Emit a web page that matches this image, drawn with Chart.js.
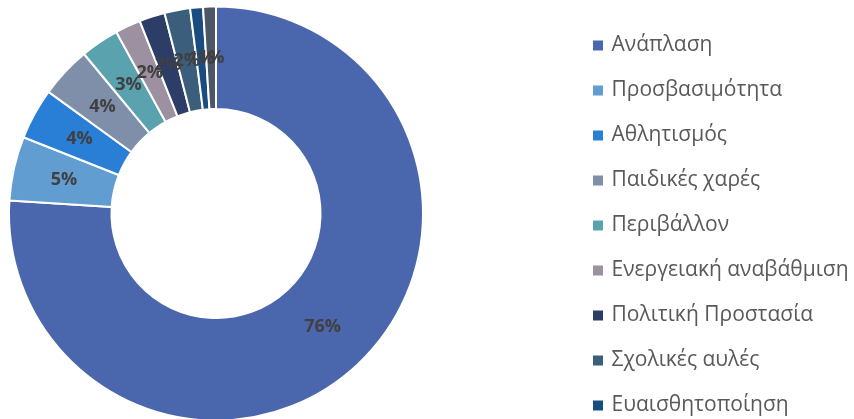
<!DOCTYPE html>
<html lang="el">
<head>
    <meta charset="UTF-8">
    <title>Κατανομή έργων</title>
    <script src="https://cdn.jsdelivr.net/npm/chart.js"></script>
    <style>
        body { margin: 0; background: #fff; }
        /* the picture is a crop of a larger chart: the ring and the 10th legend row run past the edges */
        .frame { position: relative; width: 854px; height: 419px; overflow: hidden; }
        .frame canvas { position: absolute; left: -139px; top: -58px; }
    </style>
</head>
<body>
    <div class="frame"><canvas id="shareChart" width="993" height="543"></canvas></div>

    <script>
        // Categories and their shares (%)
        const categories = [
            'Ανάπλαση', 'Προσβασιμότητα', 'Αθλητισμός', 'Παιδικές χαρές', 'Περιβάλλον',
            'Ενεργειακή αναβάθμιση', 'Πολιτική Προστασία', 'Σχολικές αυλές', 'Ευαισθητοποίηση', 'Λοιπά'
        ];
        const shares = [76, 5, 4, 4, 3, 2, 2, 2, 1, 1];
        const sliceColors = [
            '#4A66AC', '#629DD1', '#297FD5', '#7F8FA9', '#5AA2AE',
            '#9D90A0', '#2C3D67', '#3B5E7D', '#194C80', '#4C5665'
        ];

        // Percent labels drawn at the middle of each ring segment
        const sliceLabels = {
            id: 'sliceLabels',
            afterDatasetsDraw(chart) {
                const ctx = chart.ctx;
                const total = shares.reduce((a, b) => a + b, 0);
                ctx.save();
                ctx.font = 'bold 18px "Open Sans"';
                ctx.fillStyle = '#404040';
                ctx.textAlign = 'center';
                ctx.textBaseline = 'middle';
                chart.getDatasetMeta(0).data.forEach((arc, i) => {
                    const pos = arc.tooltipPosition();
                    ctx.fillText(Math.round(shares[i] / total * 100) + '%', pos.x, pos.y);
                });
                ctx.restore();
            }
        };

        const ctx = document.getElementById('shareChart').getContext('2d');

        new Chart(ctx, {
            type: 'doughnut',
            data: {
                labels: categories,
                datasets: [{
                    data: shares,
                    backgroundColor: sliceColors,
                    borderColor: '#ffffff',
                    borderWidth: 2,
                    radius: 207,
                    cutout: '50.5%'
                }]
            },
            options: {
                responsive: false,
                animation: false,
                layout: { padding: 0 },
                plugins: {
                    tooltip: { enabled: false },
                    legend: {
                        position: 'right',
                        align: 'end',
                        maxWidth: 283,
                        labels: {
                            usePointStyle: true,
                            pointStyle: 'rect',
                            boxWidth: 6,
                            boxHeight: 12,
                            padding: 24,
                            color: '#595959',
                            font: { family: '"Open Sans"', size: 21 }
                        }
                    }
                }
            },
            plugins: [sliceLabels]
        });
    </script>
</body>
</html>
